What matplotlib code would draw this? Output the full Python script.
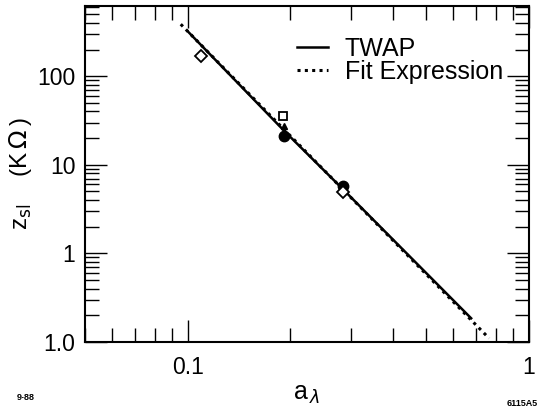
import matplotlib
matplotlib.use("Agg")
import matplotlib.pyplot as plt
from matplotlib.lines import Line2D

plt.rcParams['font.family'] = ['Liberation Sans', 'DejaVu Sans']

# TWAP curve and fit expression
twap_a = [0.100, 0.192, 0.285, 0.677]
twap_z = [321, 24.0, 5.3, 0.185]
fit_a = [0.0954, 0.764]
fit_z = [386, 0.110]

# measured points
diamond_a = [0.1096, 0.286]
diamond_z = [169, 4.9]
square_a = [0.190]
square_z = [35.6]
tri_a = [0.192]
tri_z = [27.5]
circle_a = [0.192, 0.285]
circle_z = [21.2, 5.7]

yticks = [0.1, 1, 10, 100]
ytick_labels = ['1.0', '1', '10', '100']
xticks = [0.1, 1]
xtick_labels = ['0.1', '1']

fig = plt.figure(figsize=(5.39, 4.11), dpi=100)
ax = fig.add_axes([0.1577, 0.168, 0.8237, 0.8174])

ax.plot(fit_a, fit_z, color='black', lw=2.2, linestyle=(0, (1, 1.4)), label='Fit Expression', zorder=2)
ax.plot(twap_a, twap_z, color='black', lw=1.8, label='TWAP', zorder=3)

ax.plot(circle_a, circle_z, 'o', color='black', ms=7.5, zorder=4)
ax.plot(diamond_a, diamond_z, 'D', mfc='white', mec='black', mew=1.3, ms=6, zorder=5)
ax.plot(square_a, square_z, 's', mfc='white', mec='black', mew=1.3, ms=6, zorder=5)
ax.plot(tri_a, tri_z, '^', color='black', ms=4, zorder=5)

ax.set_xscale('log')
ax.set_yscale('log')
ax.set_xlim(0.05, 1.0)
ax.set_ylim(0.1, 620)

ax.set_xticks(xticks)
ax.set_xticklabels(xtick_labels)
ax.set_yticks(yticks)
ax.set_yticklabels(ytick_labels)

ax.tick_params(which='both', direction='in', top=True, right=True, width=1.0)
ax.tick_params(which='major', length=16, labelsize=16.5)
ax.tick_params(axis='x', which='major', pad=10)
ax.tick_params(axis='y', which='major', pad=7)
ax.tick_params(which='minor', length=10)
for s in ax.spines.values():
    s.set_linewidth(1.5)

ax.set_xlabel(r'a$_{\,\lambda}$', fontsize=18, labelpad=2)
ax.set_ylabel(r'z$_{\rm sl}$    (K$\,\Omega\,$)', fontsize=17.5, labelpad=2)

handles = [Line2D([], [], color='black', lw=1.8),
           Line2D([], [], color='black', lw=2.2, linestyle=(0, (1, 1.4)))]
ax.legend(handles, ['TWAP', 'Fit Expression'], loc='upper right',
          bbox_to_anchor=(0.992, 0.975), frameon=False, fontsize=18,
          handlelength=1.25, handletextpad=0.65, labelspacing=-0.05)

fig.text(0.032, 0.027, '9-88', fontsize=6.5, weight='bold')
fig.text(0.94, 0.012, '6115A5', fontsize=6.5, weight='bold')

fig.savefig('out.png', dpi=100)
